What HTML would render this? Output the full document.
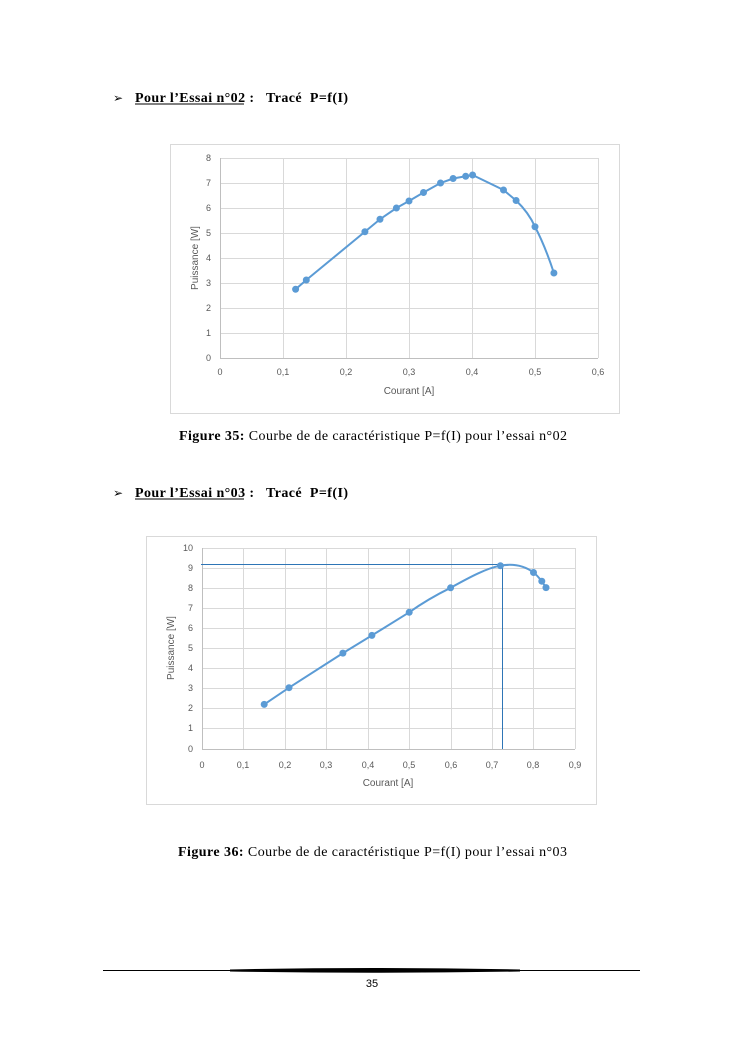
<!DOCTYPE html>
<html><head><meta charset="utf-8"><style>
body{margin:0;background:#fff;width:745px;height:1053px;overflow:hidden}
svg text{font-family:"Liberation Sans",sans-serif}
svg text.s{font-family:"Liberation Serif",serif}
</style></head><body>
<svg width="745" height="1053" xmlns="http://www.w3.org/2000/svg">
<!-- heading 1 -->
<text x="113" y="102" font-size="12" class="s">➢</text>
<text x="135" y="102" font-size="14" font-weight="bold" class="s" xml:space="preserve" textLength="213" lengthAdjust="spacing">Pour l’Essai n°02 :   Tracé  P=f(I)</text>
<line x1="135" y1="104" x2="244" y2="104" stroke="#000" stroke-width="1"/>
<!-- chart1 -->
<rect x="170.5" y="144.5" width="449" height="269" fill="#fff" stroke="#d9d9d9"/>
<g stroke="#d9d9d9" stroke-width="1">
<line x1="220" y1="158.5" x2="598" y2="158.5"/><line x1="220" y1="183.5" x2="598" y2="183.5"/><line x1="220" y1="208.5" x2="598" y2="208.5"/><line x1="220" y1="233.5" x2="598" y2="233.5"/><line x1="220" y1="258.5" x2="598" y2="258.5"/><line x1="220" y1="283.5" x2="598" y2="283.5"/><line x1="220" y1="308.5" x2="598" y2="308.5"/><line x1="220" y1="333.5" x2="598" y2="333.5"/>
<line x1="283.5" y1="158" x2="283.5" y2="358"/><line x1="346.5" y1="158" x2="346.5" y2="358"/><line x1="409.5" y1="158" x2="409.5" y2="358"/><line x1="472.5" y1="158" x2="472.5" y2="358"/><line x1="535.5" y1="158" x2="535.5" y2="358"/><line x1="598.5" y1="158" x2="598.5" y2="358"/>
<line x1="220.5" y1="158" x2="220.5" y2="358" stroke="#bfbfbf"/>
<line x1="220" y1="358.5" x2="598" y2="358.5" stroke="#bfbfbf"/>
</g>
<g font-size="9" fill="#595959" text-anchor="end">
<text x="211" y="161">8</text><text x="211" y="186">7</text><text x="211" y="211">6</text><text x="211" y="236">5</text><text x="211" y="261">4</text><text x="211" y="286">3</text><text x="211" y="311">2</text><text x="211" y="336">1</text><text x="211" y="361">0</text>
</g>
<g font-size="9" fill="#595959" text-anchor="middle">
<text x="220" y="375">0</text><text x="283" y="375">0,1</text><text x="346" y="375">0,2</text><text x="409" y="375">0,3</text><text x="472" y="375">0,4</text><text x="535" y="375">0,5</text><text x="598" y="375">0,6</text>
<text x="409" y="394" font-size="10">Courant [A]</text>
<text transform="translate(198,258) rotate(-90)" font-size="10">Puissance [W]</text>
</g>
<path d="M295.6,289.25 L306.3,280 L364.9,231.75 L380,219.25 L396.4,208 L409,201 L423.5,192.5 L440.5,183 L453.1,178.5 L465.7,176.25 L472.6,175 L503.5,190 L516.1,200.5 C526,210 532,220 535,226.75 C542,240 548,255 553.9,273" fill="none" stroke="#5b9bd5" stroke-width="2"/>
<g fill="#5b9bd5">
<circle cx="295.6" cy="289.25" r="3.5"/><circle cx="306.3" cy="280" r="3.5"/><circle cx="364.9" cy="231.75" r="3.5"/><circle cx="380" cy="219.25" r="3.5"/><circle cx="396.4" cy="208" r="3.5"/><circle cx="409" cy="201" r="3.5"/><circle cx="423.5" cy="192.5" r="3.5"/><circle cx="440.5" cy="183" r="3.5"/><circle cx="453.1" cy="178.5" r="3.5"/><circle cx="465.7" cy="176.25" r="3.5"/><circle cx="472.6" cy="175" r="3.5"/><circle cx="503.5" cy="190" r="3.5"/><circle cx="516.1" cy="200.5" r="3.5"/><circle cx="535" cy="226.75" r="3.5"/><circle cx="553.9" cy="273" r="3.5"/>
</g>
<text x="179" y="440" font-size="14" class="s" textLength="388" lengthAdjust="spacing"><tspan font-weight="bold">Figure 35:</tspan> Courbe de de caractéristique P=f(I) pour l’essai n°02</text>

<!-- heading 2 -->
<text x="113" y="497" font-size="12" class="s">➢</text>
<text x="135" y="497" font-size="14" font-weight="bold" class="s" xml:space="preserve" textLength="213" lengthAdjust="spacing">Pour l’Essai n°03 :   Tracé  P=f(I)</text>
<line x1="135" y1="499" x2="244" y2="499" stroke="#000" stroke-width="1"/>
<!-- chart2 -->
<rect x="146.5" y="536.5" width="450" height="268" fill="#fff" stroke="#d9d9d9"/>
<g stroke="#d9d9d9" stroke-width="1">
<line x1="202" y1="548.5" x2="575" y2="548.5"/><line x1="202" y1="568.5" x2="575" y2="568.5"/><line x1="202" y1="588.5" x2="575" y2="588.5"/><line x1="202" y1="608.5" x2="575" y2="608.5"/><line x1="202" y1="628.5" x2="575" y2="628.5"/><line x1="202" y1="648.5" x2="575" y2="648.5"/><line x1="202" y1="668.5" x2="575" y2="668.5"/><line x1="202" y1="688.5" x2="575" y2="688.5"/><line x1="202" y1="708.5" x2="575" y2="708.5"/><line x1="202" y1="728.5" x2="575" y2="728.5"/>
<line x1="243.5" y1="548" x2="243.5" y2="749"/><line x1="285.5" y1="548" x2="285.5" y2="749"/><line x1="326.5" y1="548" x2="326.5" y2="749"/><line x1="368.5" y1="548" x2="368.5" y2="749"/><line x1="409.5" y1="548" x2="409.5" y2="749"/><line x1="451.5" y1="548" x2="451.5" y2="749"/><line x1="492.5" y1="548" x2="492.5" y2="749"/><line x1="533.5" y1="548" x2="533.5" y2="749"/><line x1="575.5" y1="548" x2="575.5" y2="749"/>
<line x1="202.5" y1="548" x2="202.5" y2="749" stroke="#bfbfbf"/>
<line x1="202" y1="749.5" x2="575" y2="749.5" stroke="#bfbfbf"/>
</g>
<g font-size="9" fill="#595959" text-anchor="end">
<text x="193" y="551">10</text><text x="193" y="571">9</text><text x="193" y="591">8</text><text x="193" y="611">7</text><text x="193" y="631">6</text><text x="193" y="651">5</text><text x="193" y="671">4</text><text x="193" y="691">3</text><text x="193" y="711">2</text><text x="193" y="731">1</text><text x="193" y="752">0</text>
</g>
<g font-size="9" fill="#595959" text-anchor="middle">
<text x="202" y="768">0</text><text x="243" y="768">0,1</text><text x="285" y="768">0,2</text><text x="326" y="768">0,3</text><text x="368" y="768">0,4</text><text x="409" y="768">0,5</text><text x="451" y="768">0,6</text><text x="492" y="768">0,7</text><text x="533" y="768">0,8</text><text x="575" y="768">0,9</text>
<text x="388" y="786" font-size="10">Courant [A]</text>
<text transform="translate(174,648) rotate(-90)" font-size="10">Puissance [W]</text>
</g>
<line x1="201" y1="564.5" x2="503" y2="564.5" stroke="#2e75b6" stroke-width="1"/>
<line x1="502.5" y1="564" x2="502.5" y2="749" stroke="#2e75b6" stroke-width="1"/>
<path d="M264.2,704.4 L289,687.7 L342.9,653.1 L371.9,635.4 L409.2,612.3 C425,601 438,594 450.6,587.8 C470,577 487,568 500.4,565.7 C515,563 526,567 533.5,572.5 C538,576 540,579 541.8,581.2 L546,587.6" fill="none" stroke="#5b9bd5" stroke-width="2"/>
<g fill="#5b9bd5">
<circle cx="264.2" cy="704.4" r="3.5"/><circle cx="289" cy="687.7" r="3.5"/><circle cx="342.9" cy="653.1" r="3.5"/><circle cx="371.9" cy="635.4" r="3.5"/><circle cx="409.2" cy="612.3" r="3.5"/><circle cx="450.6" cy="587.8" r="3.5"/><circle cx="500.4" cy="565.7" r="3.5"/><circle cx="533.5" cy="572.5" r="3.5"/><circle cx="541.8" cy="581.2" r="3.5"/><circle cx="546" cy="587.6" r="3.5"/>
</g>
<text x="178" y="856" font-size="14" class="s" textLength="389" lengthAdjust="spacing"><tspan font-weight="bold">Figure 36:</tspan> Courbe de de caractéristique P=f(I) pour l’essai n°03</text>

<!-- footer -->
<path d="M103,970 L640,970 L640,971 L103,971 Z" fill="#000"/>
<path d="M230,969.5 Q372,966.5 520,969.5 L520,971.5 Q372,974 230,971.5 Z" fill="#000"/>
<text x="372" y="987" font-size="11" text-anchor="middle">35</text>
</svg>
</body></html>
